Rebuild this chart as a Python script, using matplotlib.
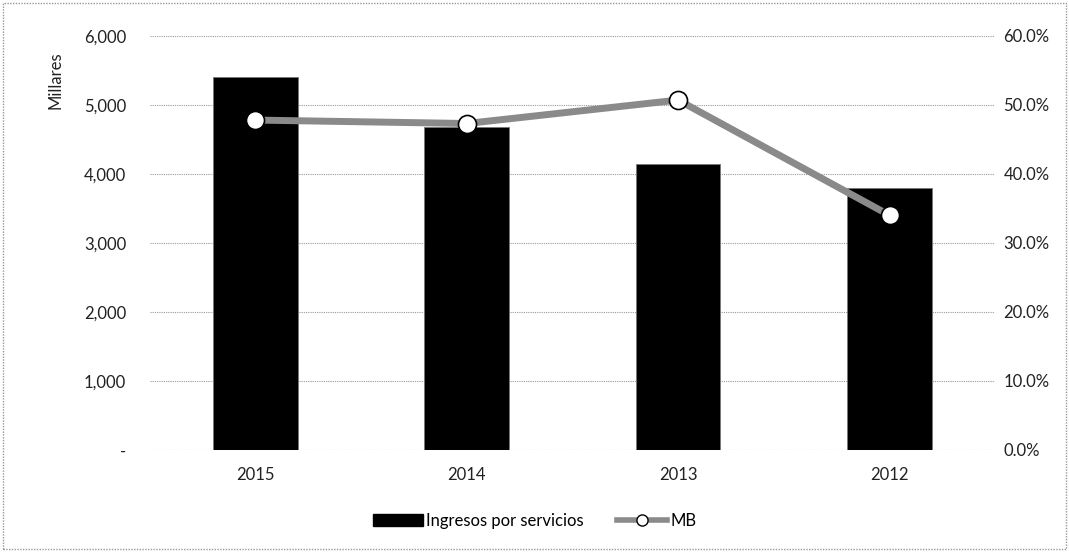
import matplotlib
matplotlib.use("Agg")
import matplotlib.pyplot as plt
from matplotlib.ticker import FuncFormatter
from matplotlib.patches import Rectangle
import numpy as np

# Datos
years = ["2015", "2014", "2013", "2012"]
ingresos = [5400, 4680, 4150, 3800]   # miles
mb = [47.8, 47.3, 50.7, 34.0]         # %

plt.rcParams['font.family'] = ['Lato', 'DejaVu Sans']

fig = plt.figure(figsize=(10.69, 5.52), dpi=100)
ax = fig.add_axes([0.140, 0.185, 0.791, 0.750])
ax2 = ax.twinx()

x = np.arange(len(years))
ax.bar(x, ingresos, width=0.4, color="black", edgecolor="#777777", linewidth=0.6, zorder=2)
ax.set_xlim(-0.5, len(years) - 0.5)
ax.set_ylim(0, 6000)
ax.set_yticks(np.arange(0, 6001, 1000))
ax.yaxis.set_major_formatter(FuncFormatter(lambda v, p: "-" if v == 0 else f"{v:,.0f}"))
ax.set_xticks(x)
ax.set_xticklabels(years)
ax.grid(axis="y", linestyle=(0, (1, 1)), color="#999999", linewidth=0.8, zorder=0)

# titulo de eje arriba a la izquierda
fig.text(56 / 1069, 1 - 80 / 552, "Millares", rotation=90, fontsize=12,
         ha="center", va="center", color="#222222")

# linea MB
ax2.plot(x, mb, color="#8a8a8a", linewidth=5, zorder=3)
ax2.plot(x, mb, linestyle="none", marker="o", markersize=13,
         markerfacecolor="white", markeredgecolor="black", markeredgewidth=1.2, zorder=4)
ax2.set_ylim(0, 60)
ax2.set_yticks(np.arange(0, 61, 10))
ax2.yaxis.set_major_formatter(FuncFormatter(lambda v, p: f"{v:.1f}%"))

for a in (ax, ax2):
    for s in a.spines.values():
        s.set_visible(False)
    a.tick_params(length=0, labelsize=12, colors="#222222")
ax.tick_params(axis="y", pad=17)
ax.tick_params(axis="x", pad=12)
ax2.tick_params(axis="y", pad=6)

# leyenda
h1 = plt.Rectangle((0, 0), 1, 1, color="black")
h2, = ax2.plot([], [], color="#8a8a8a", linewidth=4, marker="o", markersize=8,
               markerfacecolor="white", markeredgecolor="black")
fig.legend([h1, h2], ["Ingresos por servicios", "MB"], loc="center",
           bbox_to_anchor=(0.5, 0.057), ncol=2, frameon=False, fontsize=12,
           handlelength=3, handletextpad=0.2, columnspacing=2)

# borde exterior punteado
fig.patches.append(Rectangle((0.003, 0.005), 0.994, 0.99, transform=fig.transFigure,
                             fill=False, edgecolor="#999999", linestyle=(0, (1, 1)), linewidth=1))

fig.savefig("out.png", dpi=100, facecolor="white")
